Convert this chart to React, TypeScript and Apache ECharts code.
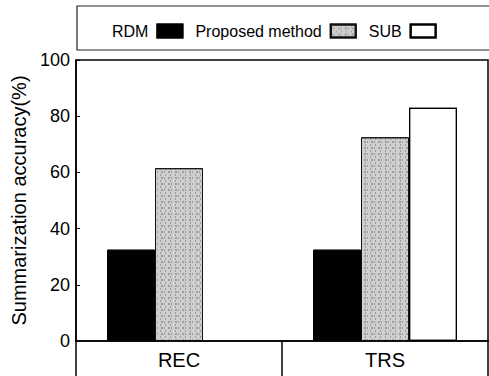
import React, { useEffect, useRef } from "react";
import * as echarts from "echarts";

const categories = ["REC", "TRS"];
const rdmValues = [32.5, 32.5];
const proposedValues = [61.5, 72.5];
const subValues: (number | null)[] = [null, 83];
const seriesNames = ["RDM", "Proposed method", "SUB"];

export default function App() {
  const ref = useRef<HTMLDivElement>(null);
  useEffect(() => {
    if (!ref.current) return;
    const chart = echarts.init(ref.current, null, { renderer: "svg" });
    const font = "Liberation Sans, Arial, sans-serif";
    chart.setOption({
      animation: false,
      aria: { enabled: true, decal: { show: true } },
      textStyle: { fontFamily: font, color: "#000" },
      grid: {
        left: 76,
        right: 1,
        top: 60,
        bottom: 35,
        show: true,
        borderColor: "#000",
        borderWidth: 1.5,
        backgroundColor: "transparent",
      },
      graphic: [
        {
          type: "rect",
          shape: { x: 77, y: 6, width: 420, height: 44 },
          style: { fill: "none", stroke: "#222", lineWidth: 1.2 },
          silent: true,
        },
      ],
      legend: {
        data: seriesNames,
        left: 107,
        top: 18,
        align: "right",
        icon: "rect",
        itemWidth: 25,
        itemHeight: 13,
        itemGap: 12,
        selectedMode: false,
        textStyle: { fontFamily: font, fontSize: 16, color: "#000", padding: [0, 4, 0, 0] },
      },
      xAxis: {
        type: "category",
        data: categories,
        boundaryGap: true,
        axisLine: { lineStyle: { color: "#000", width: 1.5 } },
        axisTick: { show: true, length: 36, lineStyle: { color: "#000", width: 1.5 } },
        axisLabel: { fontSize: 20, color: "#000", margin: 9, fontFamily: font },
      },
      yAxis: {
        type: "value",
        min: 0,
        max: 100,
        interval: 20,
        name: "Summarization accuracy(%)",
        nameLocation: "middle",
        nameGap: 43,
        nameTextStyle: { fontSize: 20, color: "#000", fontFamily: font },
        splitLine: { show: false },
        axisLine: { show: true, lineStyle: { color: "#000", width: 1.5 } },
        axisTick: { show: true, inside: true, length: 4, lineStyle: { color: "#000" } },
        axisLabel: { fontSize: 18, color: "#000", margin: 6, fontFamily: font },
      },
      series: [
        {
          name: seriesNames[0],
          type: "bar",
          data: rdmValues,
          barWidth: 48,
          barGap: "0%",
          itemStyle: { color: "#000", borderColor: "#000", borderWidth: 1, decal: { symbol: "none" } },
        },
        {
          name: seriesNames[1],
          type: "bar",
          data: proposedValues,
          barWidth: 48,
          barGap: "0%",
          itemStyle: {
            color: "#cfcfcf",
            borderColor: "#111",
            borderWidth: 1,
            decal: {
              symbol: "rect",
              symbolSize: 0.7,
              color: "rgba(0,0,0,0.45)",
              dashArrayX: [[2, 1, 1, 3], [1, 4]],
              dashArrayY: [2, 1],
              rotation: 0,
            },
          },
        },
        {
          name: seriesNames[2],
          type: "bar",
          data: subValues,
          barWidth: 48,
          barGap: "0%",
          itemStyle: { color: "#fff", borderColor: "#000", borderWidth: 1.2, decal: { symbol: "none" } },
        },
      ],
    });
    return () => chart.dispose();
  }, []);
  return <div ref={ref} style={{ width: 489, height: 376, position: "absolute", left: 0, top: 0 }} />;
}
